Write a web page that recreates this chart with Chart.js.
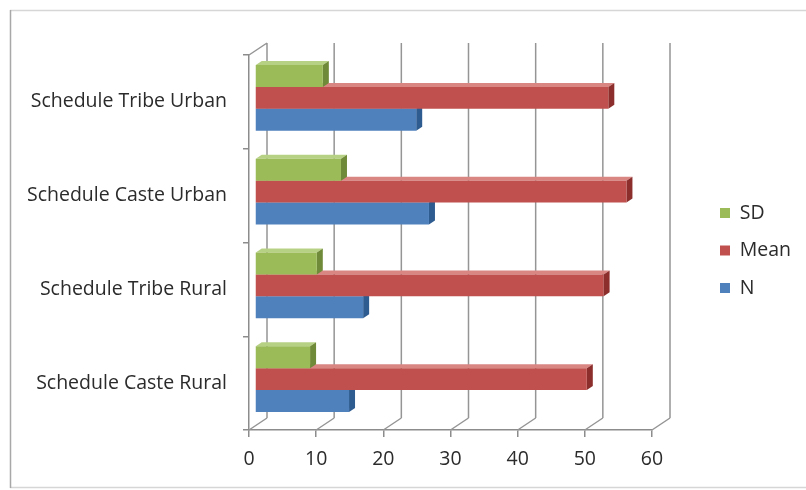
<!DOCTYPE html>
<html>
<head>
<meta charset="utf-8">
<script src="https://cdn.jsdelivr.net/npm/chart.js@4.4.0/dist/chart.umd.min.js"></script>
<style>
    html, body { margin: 0; padding: 0; background: #ffffff; }
    #chartWrap { width: 806px; height: 490px; position: relative; }
</style>
</head>
<body>
<div id="chartWrap"><canvas id="groupChart"></canvas></div>
<script>
// categories listed top to bottom, as they appear on the chart
const categories = ['Schedule Tribe Urban', 'Schedule Caste Urban', 'Schedule Tribe Rural', 'Schedule Caste Rural'];
const sdValues = [10.1, 12.8, 9.2, 8.2];
const meanValues = [52.6, 55.3, 51.9, 49.4];
const nValues = [24.0, 25.9, 16.1, 14.0];
const xTicks = [0, 10, 20, 30, 40, 50, 60];

// 3D look: depth of the walls and of the bars
const WALL_DX = 18, WALL_DY = -12;
const BAR_DX = 6, BAR_DY = -4;

const faceColors = {
    SD: { front: '#9bbb59', top: '#b7d184', side: '#6f8a38' },
    Mean: { front: '#c0504d', top: '#d98683', side: '#8c2f2c' },
    N: { front: '#4f81bd', top: '#86a8d6', side: '#2e5b90' }
};

function poly(ctx, pts) {
    ctx.beginPath();
    ctx.moveTo(pts[0][0], pts[0][1]);
    for (let i = 1; i < pts.length; i++) ctx.lineTo(pts[i][0], pts[i][1]);
    ctx.closePath();
    ctx.fill();
}

const bars3d = {
    id: 'bars3d',
    beforeInit(chart) {
        // keep a gap between the plot and the legend, like the Excel chart
        const lg = chart.legend;
        if (!lg) return;
        const fit = lg.fit;
        lg.fit = function () { fit.call(this); this.width = 806 - 652; };
        const draw = lg.draw;
        lg.draw = function () {
            const l = this.left, t = this.top, b = this.bottom;
            this.left = 720 - this.options.labels.padding;
            this.top = t - 22;
            this.bottom = b - 22;
            draw.call(this);
            this.left = l; this.top = t; this.bottom = b;
        };
    },
    beforeDraw(chart) {
        const ctx = chart.ctx;
        ctx.save();
        ctx.lineWidth = 1.5;
        ctx.strokeStyle = '#d6d6d6';
        ctx.beginPath();
        ctx.moveTo(10, 10.5); ctx.lineTo(806, 10.5);
        ctx.moveTo(10, 487.5); ctx.lineTo(806, 487.5);
        ctx.stroke();
        ctx.strokeStyle = '#a8a8a8';
        ctx.beginPath();
        ctx.moveTo(10.5, 10); ctx.lineTo(10.5, 488);
        ctx.stroke();
        ctx.restore();
    },
    beforeDatasetsDraw(chart) {
        const ctx = chart.ctx;
        const a = chart.chartArea;
        const xs = chart.scales.x;

        // back wall gridlines + floor lines
        ctx.save();
        ctx.strokeStyle = '#959595';
        ctx.lineWidth = 1.5;
        ctx.beginPath();
        xTicks.forEach(function (v) {
            const px = xs.getPixelForValue(v);
            ctx.moveTo(px + WALL_DX, a.top + WALL_DY);
            ctx.lineTo(px + WALL_DX, a.bottom + WALL_DY);
            ctx.moveTo(px, a.bottom);
            ctx.lineTo(px + WALL_DX, a.bottom + WALL_DY);
        });
        // side wall top edge
        ctx.moveTo(a.left, a.top);
        ctx.lineTo(a.left + WALL_DX, a.top + WALL_DY);
        ctx.stroke();
        ctx.restore();

        // bars, bottom series first so upper bars hide lower top faces
        const metas = chart.getSortedVisibleDatasetMetas().slice().reverse();
        ctx.save();
        ctx.translate(BAR_DX, BAR_DY);
        for (let i = 0; i < categories.length; i++) {
            metas.forEach(function (meta) {
                const bar = meta.data[i];
                const p = bar.getProps(['x', 'y', 'base', 'height'], true);
                const top = p.y - p.height / 2;
                const bottom = p.y + p.height / 2;
                const c = faceColors[chart.data.datasets[meta.index].label];
                ctx.fillStyle = c.top;
                poly(ctx, [[p.base, top], [p.x, top], [p.x + BAR_DX, top + BAR_DY], [p.base + BAR_DX, top + BAR_DY]]);
                ctx.fillStyle = c.side;
                poly(ctx, [[p.x, top], [p.x + BAR_DX, top + BAR_DY], [p.x + BAR_DX, bottom + BAR_DY], [p.x, bottom]]);
                bar.draw(ctx, a);
            });
        }
        ctx.restore();
        return false;
    }
};

Chart.defaults.font.family = '"Open Sans", Lato, sans-serif';
Chart.defaults.font.size = 19.5;
Chart.defaults.color = '#2b2b2b';

const ctx = document.getElementById('groupChart').getContext('2d');
const groupChart = new Chart(ctx, {
    type: 'bar',
    data: {
        labels: categories,
        datasets: [
            { label: 'SD', data: sdValues, backgroundColor: faceColors.SD.front },
            { label: 'Mean', data: meanValues, backgroundColor: faceColors.Mean.front },
            { label: 'N', data: nValues, backgroundColor: faceColors.N.front }
        ]
    },
    options: {
        indexAxis: 'y',
        responsive: true,
        maintainAspectRatio: false,
        animation: false,
        categoryPercentage: 0.7,
        barPercentage: 1.0,
        layout: {
            padding: { top: 55, left: 0, right: 0, bottom: 0 }
        },
        scales: {
            x: {
                min: 0,
                max: 60,
                afterBuildTicks: function (scale) {
                    scale.ticks = xTicks.map(function (v) { return { value: v }; });
                },
                afterFit: function (scale) {
                    scale.height = 60;
                },
                grid: {
                    drawOnChartArea: false,
                    drawTicks: true,
                    tickLength: 7,
                    color: '#8c8c8c',
                    lineWidth: 1.5
                },
                border: { display: true, color: '#8c8c8c', width: 1.5 },
                ticks: { padding: 11 }
            },
            y: {
                afterFit: function (scale) {
                    scale.width = 249;
                },
                grid: {
                    drawOnChartArea: false,
                    drawTicks: true,
                    tickLength: 6,
                    color: '#8c8c8c',
                    lineWidth: 1.5
                },
                border: { display: true, color: '#8c8c8c', width: 1.5 },
                ticks: { padding: 16 }
            }
        },
        plugins: {
            legend: {
                display: true,
                position: 'right',
                labels: {
                    boxWidth: 10,
                    boxHeight: 10,
                    padding: 18,
                    color: '#2b2b2b'
                }
            },
            tooltip: { enabled: false }
        }
    },
    plugins: [bars3d]
});
</script>
</body>
</html>
